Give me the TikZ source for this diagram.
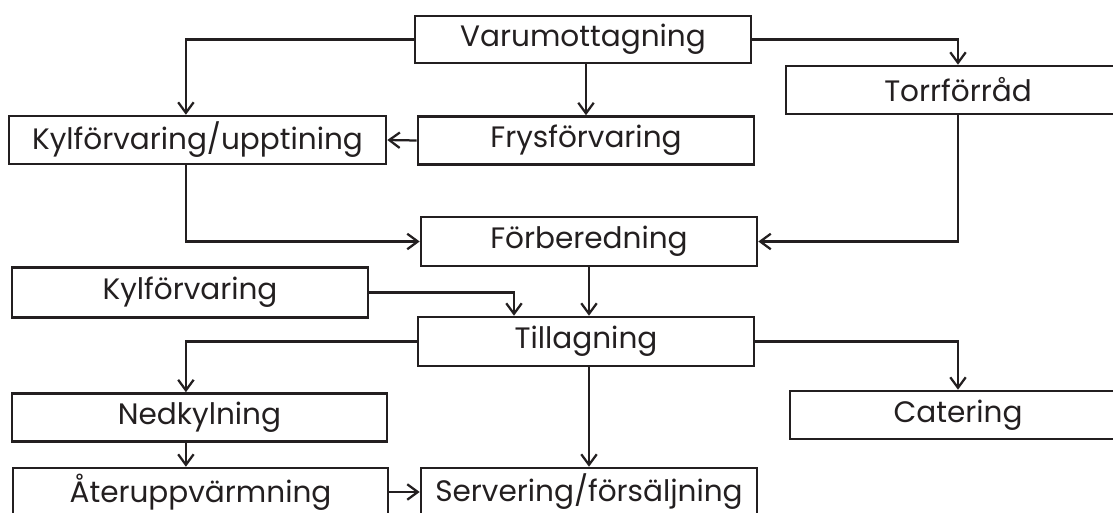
\documentclass[tikz,border=0pt]{standalone}
\usepackage{xcolor}
\usepackage{fontspec}
\setmainfont{Poppins}
\usepackage{tikz}
\usetikzlibrary{arrows.meta}
\definecolor{FlowInk}{RGB}{35, 31, 32}

\tikzset{
    stage/.style={draw=FlowInk, text=FlowInk, line width=1.8pt, inner sep=0pt,
        minimum width=8.4cm, minimum height=1.2cm, font=\fontsize{21}{24}\selectfont},
    flow/.style={draw=FlowInk, line width=1.6pt, -{Straight Barb[length=7.5pt, width=11pt]}},
}

\begin{document}
\begin{tikzpicture}[x=0.025cm, y=-0.025cm]
        \clip (0,0) rectangle (1113,513);
        \fill[white] (0,0) rectangle (1113,513);

        % Stages
        \node[stage, minimum height=1.175cm] (varu) at (583,39.5) {Varumottagning};
        \node[stage, minimum width=8.6cm] (torr) at (958,90) {Torrförråd};
        \node[stage, minimum width=9.425cm] (kylupp) at (197.5,140) {Kylförvaring/upptining};
        \node[stage] (frys) at (586,140.5) {Frysförvaring};
        \node[stage, minimum height=1.225cm] (forb) at (589,241.5) {Förberedning};
        \node[stage, minimum width=8.9cm, minimum height=1.25cm] (kyl) at (190,292.5) {Kylförvaring};
        \node[stage, minimum height=1.225cm] (till) at (586,341.5) {Tillagning};
        \node[stage, minimum width=9.375cm] (ned) at (199.5,417.5) {Nedkylning};
        \node[stage] (cat) at (958,415) {Catering};
        \node[stage, minimum width=9.375cm] (ater) at (200.5,492) {Återuppvärmning};
        \node[stage] (serv) at (589,492) {Servering/försäljning};

        % Connectors
        \draw[flow] (varu.west) -| ([xshift=-0.29cm]kylupp.north);
        \draw[flow] (varu.east) -| (torr.north);
        \draw[flow] (frys.north |- varu.south) -- (frys.north);
        \draw[flow] (frys.west) -- (kylupp.east);
        \draw[flow] ([xshift=-0.29cm]kylupp.south) |- (forb.west);
        \draw[flow] (torr.south) |- (forb.east);
        \draw[flow] (forb.south) -- (forb.south |- till.north);
        \draw[flow] (kyl.east) -| ([xshift=-1.8cm]till.north);
        \draw[flow] (till.west) -| ([xshift=-0.34cm]ned.north);
        \draw[flow] (till.east) -| (cat.north);
        \draw[flow] (serv.north |- till.south) -- (serv.north);
        \draw[flow] ([xshift=-0.34cm]ned.south) -- ([xshift=-0.34cm]ned.south |- ater.north);
        \draw[flow] (ater.east) -- (serv.west);
    \end{tikzpicture}
\end{document}
